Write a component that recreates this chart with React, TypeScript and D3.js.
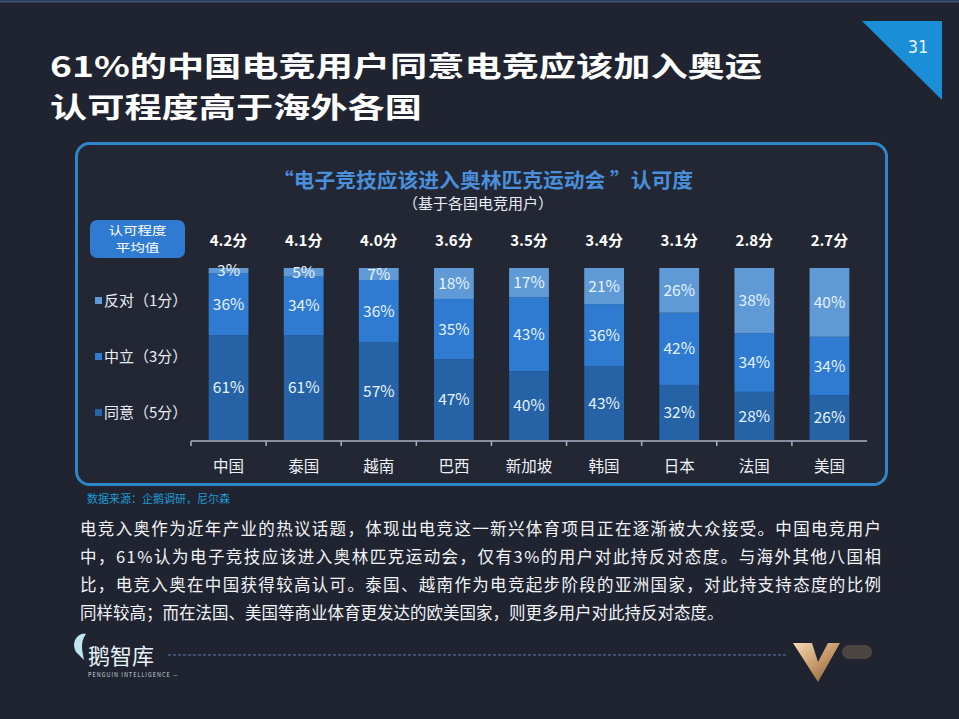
import { useEffect, useRef } from "react";
import * as d3 from "d3";

const countries = ["中国", "泰国", "越南", "巴西", "新加坡", "韩国", "日本", "法国", "美国"];
const agree = [61, 61, 57, 47, 40, 43, 32, 28, 26];
const neutral = [36, 34, 36, 35, 43, 36, 42, 34, 34];
const oppose = [3, 5, 7, 18, 17, 21, 26, 38, 40];
const scores = ["4.2分", "4.1分", "4.0分", "3.6分", "3.5分", "3.4分", "3.1分", "2.8分", "2.7分"];

const seriesNames = ["同意（5分）", "中立（3分）", "反对（1分）"];
const seriesColors = ["#2562a6", "#2f7bd1", "#5f9ad6"];

const paragraph = [
  "电竞入奥作为近年产业的热议话题，体现出电竞这一新兴体育项目正在逐渐被大众接受。中国电竞用户",
  "中，61%认为电子竞技应该进入奥林匹克运动会，仅有3%的用户对此持反对态度。与海外其他八国相",
  "比，电竞入奥在中国获得较高认可。泰国、越南作为电竞起步阶段的亚洲国家，对此持支持态度的比例",
  "同样较高；而在法国、美国等商业体育更发达的欧美国家，则更多用户对此持反对态度。",
];

const FONT = "'Noto Sans CJK SC', 'Noto Sans', sans-serif";

function App() {
  const ref = useRef<SVGSVGElement>(null);

  useEffect(() => {
    document.body.style.margin = "0";
    document.body.style.background = "#1f2430";
    const W = 959;
    const H = 719;
    const svg = d3.select(ref.current);
    svg.selectAll("*").remove();
    svg.attr("width", W).attr("height", H).style("font-family", FONT);

    svg.append("rect").attr("width", W).attr("height", H).attr("fill", "#1f2430");
    svg.append("line").attr("x1", 0).attr("x2", W).attr("y1", 1.5).attr("y2", 1.5)
      .attr("stroke", "#3a5478").attr("stroke-width", 2);

    // page number
    svg.append("path").attr("d", "M862,21 L942,21 L942,100 Z").attr("fill", "#1a8fd8");
    svg.append("text").attr("x", 918).attr("y", 53).attr("text-anchor", "middle")
      .attr("fill", "#e8f4ff").attr("font-size", 18).attr("font-family", "'Liberation Sans Narrow', 'DejaVu Sans Condensed', sans-serif")
      .text("31");

    // header title
    const title = svg.append("g").attr("fill", "#ffffff").attr("font-weight", "bold").attr("font-size", 28);
    title.append("text").attr("x", 50).attr("y", 77).attr("textLength", 712).attr("lengthAdjust", "spacingAndGlyphs")
      .text("61%的中国电竞用户同意电竞应该加入奥运");
    title.append("text").attr("x", 50).attr("y", 118).attr("textLength", 372).attr("lengthAdjust", "spacingAndGlyphs")
      .text("认可程度高于海外各国");

    // panel
    svg.append("rect").attr("x", 76.5).attr("y", 143.5).attr("width", 810).attr("height", 341)
      .attr("rx", 13).attr("fill", "#222733").attr("stroke", "#2e86c8").attr("stroke-width", 3);

    svg.append("text").attr("x", 483).attr("y", 188).attr("text-anchor", "middle")
      .attr("fill", "#4a8fdc").attr("font-weight", "bold").attr("font-size", 20)
      .attr("textLength", 420).attr("lengthAdjust", "spacingAndGlyphs")
      .text("“电子竞技应该进入奥林匹克运动会 ”认可度");
    svg.append("text").attr("x", 478).attr("y", 209).attr("text-anchor", "middle")
      .attr("fill", "#e8eef8").attr("font-size", 15)
      .text("（基于各国电竞用户）");

    // legend box
    svg.append("rect").attr("x", 90).attr("y", 220).attr("width", 95).attr("height", 38).attr("rx", 7)
      .attr("fill", "#2f7bd1");
    svg.append("text").attr("x", 137.5).attr("y", 235).attr("text-anchor", "middle")
      .attr("fill", "#ffffff").attr("font-size", 11.5).attr("textLength", 58).attr("lengthAdjust", "spacingAndGlyphs")
      .text("认可程度");
    svg.append("text").attr("x", 137.5).attr("y", 252).attr("text-anchor", "middle")
      .attr("fill", "#ffffff").attr("font-size", 11.5).attr("textLength", 44).attr("lengthAdjust", "spacingAndGlyphs")
      .text("平均值");

    const legendY = [413, 357, 301];
    seriesNames.forEach((name, i) => {
      const g = svg.append("g").attr("transform", `translate(95, ${legendY[i]})`);
      g.append("rect").attr("x", 0).attr("y", -4).attr("width", 7).attr("height", 7).attr("fill", seriesColors[i]);
      g.append("text").attr("x", 9).attr("y", 5).attr("fill", "#e8eef8").attr("font-size", 15).text(name);
    });

    // chart
    const x = d3.scaleBand<string>().domain(countries).range([191, 867]).paddingInner(0.47).paddingOuter(0.235);
    const y = d3.scaleLinear().domain([0, 100]).range([440, 268]);

    const rows = countries.map((c, i) => ({ country: c, agree: agree[i], neutral: neutral[i], oppose: oppose[i] }));
    const stack = d3.stack<{ country: string; agree: number; neutral: number; oppose: number }>()
      .keys(["agree", "neutral", "oppose"]);
    const layers = stack(rows);

    layers.forEach((layer, li) => {
      const g = svg.append("g");
      g.selectAll("rect").data(layer).join("rect")
        .attr("x", (d) => x(d.data.country)!)
        .attr("width", x.bandwidth())
        .attr("y", (d) => y(d[1]))
        .attr("height", (d) => y(d[0]) - y(d[1]))
        .attr("fill", seriesColors[li]);
      g.selectAll("text").data(layer).join("text")
        .attr("x", (d) => x(d.data.country)! + x.bandwidth() / 2)
        .attr("y", (d) => (y(d[0]) + y(d[1])) / 2)
        .attr("dy", "0.36em")
        .attr("text-anchor", "middle")
        .attr("fill", "#e4f2ff")
        .attr("font-size", 15.5)
        .text((d) => `${d[1] - d[0]}%`);
    });

    // scores
    svg.append("g").selectAll("text").data(countries).join("text")
      .attr("x", (d) => x(d)! + x.bandwidth() / 2)
      .attr("y", 246)
      .attr("text-anchor", "middle")
      .attr("fill", "#ffffff")
      .attr("font-weight", "bold")
      .attr("font-size", 15)
      .text((_, i) => scores[i]);

    // axis
    const axis = svg.append("g").attr("stroke", "#a8b2c4").attr("stroke-width", 1.5);
    axis.append("line").attr("x1", 191).attr("x2", 867).attr("y1", 441).attr("y2", 441);
    const step = x.step();
    d3.range(countries.length).forEach((i) => {
      const tx = 191 + i * step;
      axis.append("line").attr("x1", tx).attr("x2", tx).attr("y1", 441).attr("y2", 446);
    });
    svg.append("g").selectAll("text").data(countries).join("text")
      .attr("x", (d) => x(d)! + x.bandwidth() / 2)
      .attr("y", 472)
      .attr("text-anchor", "middle")
      .attr("fill", "#eef2f8")
      .attr("font-size", 15.5)
      .text((d) => d);

    svg.append("text").attr("x", 87).attr("y", 503).attr("fill", "#1f9ad6").attr("font-size", 11)
      .text("数据来源：企鹅调研，尼尔森");

    // paragraph
    paragraph.forEach((line, i) => {
      const t = svg.append("text").attr("x", 80).attr("y", 535 + i * 28)
        .attr("fill", "#f2f4f8").attr("font-size", 16.5).text(line);
      if (i < paragraph.length - 1) t.attr("textLength", 801).attr("lengthAdjust", "spacing");
    });

    // footer
    svg.append("line").attr("x1", 168).attr("x2", 787).attr("y1", 655).attr("y2", 655)
      .attr("stroke", "#5a78a8").attr("stroke-width", 1).attr("stroke-dasharray", "3,2");
    svg.append("path").attr("d", "M76,652 C70,640 80,632 86,634 C80,642 82,650 84,660 Z").attr("fill", "#bfe6f0");
    svg.append("text").attr("x", 88).attr("y", 664).attr("fill", "#e6f2f6").attr("font-size", 22).text("鹅智库");
    svg.append("text").attr("x", 88).attr("y", 677).attr("fill", "#c8d4dc").attr("font-size", 5.5)
      .attr("letter-spacing", 1).text("PENGUIN INTELLIGENCE —");

    const defs = svg.append("defs");
    const grad = defs.append("linearGradient").attr("id", "gold").attr("x1", 0).attr("y1", 0).attr("x2", 1).attr("y2", 1);
    grad.append("stop").attr("offset", "0%").attr("stop-color", "#f6dcb8");
    grad.append("stop").attr("offset", "50%").attr("stop-color", "#c89a6a");
    grad.append("stop").attr("offset", "100%").attr("stop-color", "#7a5632");
    svg.append("path").attr("d", "M793,643 L812,643 L818,662 L828,643 L840,643 L818,682 Z").attr("fill", "url(#gold)");
    svg.append("rect").attr("x", 842).attr("y", 645).attr("width", 30).attr("height", 14).attr("rx", 7)
      .attr("fill", "#a08060").attr("opacity", 0.35);
  }, []);

  return <svg ref={ref} style={{ display: "block" }}></svg>;
}

export default App;
